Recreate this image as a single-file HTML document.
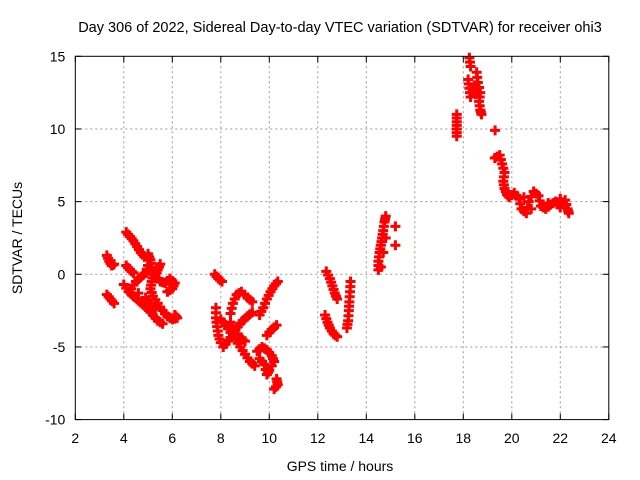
<!DOCTYPE html>
<html><head><meta charset="utf-8"><style>
html,body{margin:0;padding:0;background:#fff}
svg{display:block;font-family:"Liberation Sans",sans-serif}
</style></head><body>
<svg id="chart" width="640" height="480" viewBox="0 0 640 480" xmlns="http://www.w3.org/2000/svg">
<rect x="0" y="0" width="640" height="480" fill="#fff"/>
<text x="340" y="32" font-size="14.5" text-anchor="middle">Day 306 of 2022, Sidereal Day-to-day VTEC variation (SDTVAR) for receiver ohi3</text>
<g id="grid"></g>
<g id="ticks"></g>
<g id="pts"></g>
<rect x="75.3" y="56.3" width="533.5" height="363.3" fill="none" stroke="#000" stroke-width="1"/>
<text transform="translate(22,238) rotate(-90)" font-size="14" text-anchor="middle">SDTVAR / TECUs</text>
<text x="340" y="471" font-size="14" text-anchor="middle">GPS time / hours</text>
</svg>
<script>
const xTicks=[2,4,6,8,10,12,14,16,18,20,22,24];
const yTicks=[-10,-5,0,5,10,15];
const hours=[
3.3,3.4,3.5,3.6,3.3,3.45,3.6,
4.1,4.25,4.4,4.55,4.7,4.85,4.1,4.25,4.4,
5.0,5.1,5.15,5.2,5.15,5.1,5.2,5.4,5.6,5.8,6.0,6.2,6.1,
4.0,4.2,4.4,4.6,4.8,5.0,5.2,5.4,5.6,
5.5,5.4,5.3,5.5,5.7,5.9,6.1,6.0,5.8,
4.3,4.5,4.7,4.9,5.0,4.6,4.9,5.0,5.3,
7.75,7.9,8.05,
8.4,8.5,8.65,8.85,9.1,9.3,
7.8,7.8,7.85,7.9,8.0,
8.0,8.2,8.4,8.6,8.8,9.0,9.2,9.4,
8.1,8.3,8.5,8.7,8.9,9.1,9.3,
8.4,8.6,8.8,9.0,
9.6,9.75,9.9,10.05,10.2,10.35,
9.9,10.1,10.3,
9.5,9.7,9.9,10.1,10.2,10.0,9.9,9.8,9.6,
10.3,10.35,10.2,
12.35,12.5,12.6,12.7,12.8,
12.3,12.4,12.5,12.65,12.8,
13.35,13.33,13.3,13.28,13.25,13.2,
14.5,14.5,14.55,14.6,14.65,14.7,14.75,14.8,14.6,14.7,14.8,
15.2,15.2,
17.73,17.73,17.73,17.73,
19.31,
18.25,18.3,18.2,18.25,18.3,
18.55,18.6,18.7,18.65,18.7,18.75,18.45,18.5,
19.3,19.5,19.6,19.7,19.65,19.7,19.8,19.9,
20.1,20.3,20.4,20.6,20.7,20.9,21.1,21.2,21.4,21.6,21.8,22.0,22.2,22.3,22.35,20.5,20.8,21.5,22.0];
const sdtvar=[
1.3,0.9,0.6,0.7,-1.4,-1.7,-2.0,
2.9,2.6,2.3,1.9,1.5,1.2,0.6,0.3,0.1,
1.4,1.0,0.5,0.0,-0.5,-1.0,-1.5,-2.0,-2.5,-2.9,-3.1,-3.0,-2.8,
-0.7,-1.2,-1.5,-1.8,-2.1,-2.4,-2.8,-3.2,-3.4,
0.7,0.3,-0.1,-0.5,-0.6,-0.3,-0.6,-1.0,-1.2,
-1.0,-0.5,-0.2,0.1,0.6,-1.3,-1.6,-2.0,-2.4,
0.0,-0.3,-0.5,
-2.7,-2.0,-1.4,-1.2,-1.6,-1.9,
-2.3,-3.0,-3.6,-4.2,-4.7,
-3.1,-3.5,-4.0,-4.5,-5.0,-5.5,-6.0,-6.3,
-5.0,-4.6,-4.1,-3.6,-3.2,-2.9,-2.6,
-3.3,-3.8,-4.4,-4.6,
-2.8,-2.3,-1.7,-1.2,-0.8,-0.5,
-4.2,-3.8,-3.5,
-5.3,-5.0,-5.2,-5.6,-6.0,-6.6,-6.9,-6.2,-5.8,
-7.2,-7.6,-7.9,
0.2,-0.3,-0.8,-1.3,-1.7,
-2.8,-3.3,-3.7,-4.1,-4.3,
-0.5,-1.2,-1.9,-2.5,-3.2,-3.7,
0.3,0.9,1.5,2.0,2.5,3.0,3.6,4.0,0.5,1.5,2.5,
3.3,2.0,
11.0,10.5,10.0,9.5,
9.9,
14.9,14.3,13.4,12.8,12.2,
13.9,13.2,12.5,11.9,11.3,11.0,13.0,12.4,
8.0,8.2,7.6,7.0,6.4,5.9,5.5,5.3,
5.6,5.2,4.5,4.2,5.0,5.7,5.4,4.7,4.5,4.8,5.0,4.6,5.1,4.5,4.2,5.3,4.5,4.9,5.2];
const X0=75.3,X1=608.8,Y0=419.6,Y1=56.3;
function xs(h){return X0+(h-2)/22*(X1-X0);}
function ys(v){return Y0-(v+10)/25*(Y0-Y1);}
const NS="http://www.w3.org/2000/svg";
const grid=document.getElementById('grid'),ticks=document.getElementById('ticks'),pts=document.getElementById('pts');
function mk(tag,attrs,parent){const e=document.createElementNS(NS,tag);for(const k in attrs)e.setAttribute(k,attrs[k]);parent.appendChild(e);return e;}
xTicks.forEach(t=>{const x=xs(t);
 if(t>2&&t<24){const g=mk('line',{x1:x,x2:x,y1:Y1,y2:Y0,stroke:'#999','stroke-dasharray':'2,3','stroke-width':1},grid);
 
 }
 const a=mk('line',{x1:x,x2:x,y1:Y0,y2:Y0-6,stroke:'#000'},ticks);
 
 
 const b=mk('line',{x1:x,x2:x,y1:Y1,y2:Y1+6,stroke:'#000'},ticks);
 
 
 const l=mk('text',{x:x,y:443,'font-size':14,'text-anchor':'middle'},ticks);l.textContent=t;
 
 
});
yTicks.forEach(t=>{const y=ys(t);
 if(t>-10&&t<15){const g=mk('line',{x1:X0,x2:X1,y1:y,y2:y,stroke:'#999','stroke-dasharray':'2,3','stroke-width':1},grid);
 
 }
 const a=mk('line',{x1:X0,x2:X0+6,y1:y,y2:y,stroke:'#000'},ticks);
 
 
 const b=mk('line',{x1:X1,x2:X1-6,y1:y,y2:y,stroke:'#000'},ticks);
 
 
 const l=mk('text',{x:X0-10,y:y+5,'font-size':14,'text-anchor':'end'},ticks);l.textContent=t;
 
 
});
for(let i=0;i<hours.length;i++){
 const x=xs(hours[i]),y=ys(sdtvar[i]);
 const p=mk('path',{d:`M${x-5} ${y}H${x+5}M${x} ${y-5}V${y+5}`,stroke:'#f00','stroke-width':3,fill:'none'},pts);
 
 
 if(i+1<hours.length&&Math.abs(hours[i+1]-hours[i])<0.3&&Math.abs(sdtvar[i+1]-sdtvar[i])<0.8){
  const xm=(x+xs(hours[i+1]))/2,ym=(y+ys(sdtvar[i+1]))/2;
  const q=mk('path',{d:`M${xm-5} ${ym}H${xm+5}M${xm} ${ym-5}V${ym+5}`,stroke:'#f00','stroke-width':3,fill:'none'},pts);
  
  
 }
}
</script>
</body></html>
